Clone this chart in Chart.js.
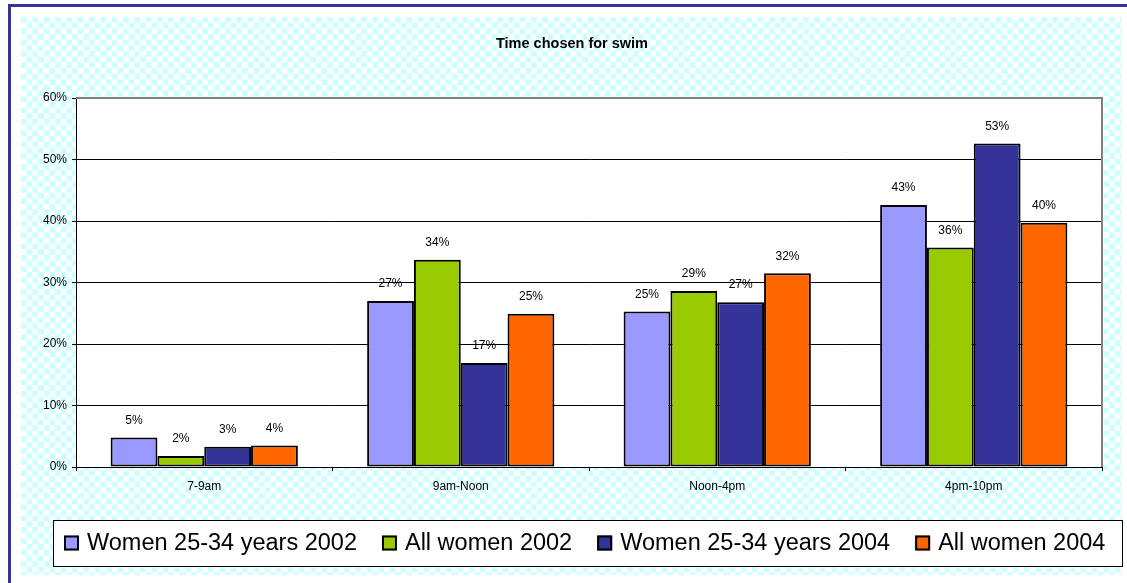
<!DOCTYPE html>
<html>
<head>
<meta charset="utf-8">
<title>Time chosen for swim</title>
<script src="https://cdn.jsdelivr.net/npm/chart.js@4/dist/chart.umd.min.js"></script>
<style>
  html, body { margin: 0; padding: 0; background: #fff; }
  #wrap { position: relative; width: 1127px; height: 583px; }
</style>
</head>
<body>
<div id="wrap"><canvas id="swim"></canvas></div>
<script>
// Time slots and the share (%) of swimmers choosing each one
const categories = ['7-9am', '9am-Noon', 'Noon-4pm', '4pm-10pm'];
const women2534in2002 = [4.8, 27.0, 25.3, 42.6];
const allWomen2002 = [1.8, 33.7, 28.6, 35.7];
const women2534in2004 = [3.3, 16.9, 26.8, 52.6];
const allWomen2004 = [3.5, 24.9, 31.5, 39.7];
const seriesNames = ['Women 25-34 years 2002', 'All women 2002', 'Women 25-34 years 2004', 'All women 2004'];
const yTickValues = [0, 10, 20, 30, 40, 50, 60];

const FONT = '"Liberation Sans", Arial, sans-serif';

// light cyan checkerboard used for the chart background
function checkerPattern(ctx) {
  const cells = 6, tile = 34, s = tile / cells;
  const c = document.createElement('canvas');
  c.width = tile; c.height = tile;
  const g = c.getContext('2d');
  g.fillStyle = '#ffffff';
  g.fillRect(0, 0, tile, tile);
  g.fillStyle = '#ccffff';
  for (let i = 0; i < cells; i++) {
    for (let j = 0; j < cells; j++) {
      if ((i + j) % 2 === 0) g.fillRect(i * s, j * s, s, s);
    }
  }
  const p = ctx.createPattern(c, 'repeat');
  p.setTransform(new DOMMatrix().translate(21, 17));
  return p;
}

// page frame, patterned background and white plot area
const backdrop = {
  id: 'backdrop',
  beforeDraw(chart) {
    const { ctx, chartArea: a, width, height } = chart;
    ctx.save();
    ctx.fillStyle = '#ffffff';
    ctx.fillRect(0, 0, width, height);
    ctx.fillStyle = checkerPattern(ctx);
    ctx.fillRect(21, 17, 1101, 558);
    ctx.fillStyle = '#333399';
    ctx.fillRect(8, 4, width - 8, 3);
    ctx.fillRect(8, 4, 3, height - 4);
    ctx.fillStyle = '#ffffff';
    ctx.fillRect(a.left, a.top, a.right - a.left, a.bottom - a.top);
    ctx.restore();
  },
  beforeDatasetsDraw(chart) {
    const { ctx, chartArea: a } = chart;
    ctx.save();
    ctx.strokeStyle = '#808080';
    ctx.lineWidth = 2;
    ctx.beginPath();
    ctx.moveTo(a.left, a.top);
    ctx.lineTo(a.right, a.top);
    ctx.lineTo(a.right, a.bottom);
    ctx.stroke();
    ctx.restore();
  }
};

// single-row boxed legend under the axis
const boxedLegend = {
  id: 'boxedLegend',
  afterDraw(chart, args, opts) {
    const ctx = chart.ctx;
    const { left, right, centerY, startX, swatch, textGap, itemGap, fontSize } = opts;
    ctx.save();
    ctx.fillStyle = '#ffffff';
    ctx.fillRect(left + 0.5, centerY - 23 + 0.5, right - left, 46);
    ctx.strokeStyle = '#000000';
    ctx.lineWidth = 1;
    ctx.strokeRect(left + 0.5, centerY - 23 + 0.5, right - left, 46);

    ctx.font = fontSize + 'px ' + FONT;
    ctx.textAlign = 'left';
    ctx.textBaseline = 'middle';
    let x = startX;
    chart.data.datasets.forEach(ds => {
      ctx.fillStyle = ds.backgroundColor;
      ctx.fillRect(x, centerY - swatch / 2, swatch, swatch);
      ctx.strokeStyle = '#000000';
      ctx.lineWidth = 2;
      ctx.strokeRect(x + 1, centerY - swatch / 2 + 1, swatch - 2, swatch - 2);
      ctx.fillStyle = '#000000';
      ctx.fillText(ds.label, x + textGap, centerY + 1);
      x += textGap + ctx.measureText(ds.label).width + itemGap;
    });
    ctx.restore();
  }
};

// percentage written above each bar
const valueLabels = {
  id: 'valueLabels',
  afterDatasetsDraw(chart) {
    const ctx = chart.ctx;
    ctx.save();
    ctx.font = '12px ' + FONT;
    ctx.fillStyle = '#000000';
    ctx.textAlign = 'center';
    ctx.textBaseline = 'middle';
    chart.data.datasets.forEach((ds, i) => {
      chart.getDatasetMeta(i).data.forEach((bar, j) => {
        ctx.fillText(Math.round(ds.data[j]) + '%', bar.x, bar.y - 17);
      });
    });
    ctx.restore();
  }
};

const seriesValues = [women2534in2002, allWomen2002, women2534in2004, allWomen2004];
const seriesColors = ['#9999ff', '#99cc00', '#333399', '#ff6600'];

new Chart(document.getElementById('swim'), {
  type: 'bar',
  data: {
    labels: categories,
    datasets: seriesValues.map((vals, i) => ({
      label: seriesNames[i],
      data: vals,
      backgroundColor: seriesColors[i],
      borderColor: '#000000',
      borderWidth: 2,
      borderSkipped: false,
      categoryPercentage: 0.73,
      barPercentage: 1.0
    }))
  },
  options: {
    responsive: true,
    maintainAspectRatio: false,
    animation: false,
    layout: { padding: { left: 42, right: 25, top: 0, bottom: 86 } },
    plugins: {
      title: {
        display: true,
        text: 'Time chosen for swim',
        color: '#000000',
        font: { family: FONT, size: 14.5, weight: 'bold' },
        padding: { top: 35, bottom: 45.6 }
      },
      legend: { display: false },
      tooltip: { enabled: false },
      boxedLegend: {
        left: 53, right: 1122, centerY: 543,
        startX: 64, swatch: 15, textGap: 23, itemGap: 25, fontSize: 23.5
      }
    },
    scales: {
      x: {
        grid: { drawOnChartArea: false, drawTicks: true, tickLength: 4, color: '#000000', offset: true },
        border: { color: '#000000', width: 1 },
        ticks: { color: '#000000', font: { family: FONT, size: 12 }, padding: 8 },
        afterFit(s) { s.height = 30; }
      },
      y: {
        min: 0,
        max: 60,
        grid: { color: '#000000', lineWidth: 1, tickLength: 4 },
        border: { color: '#000000', width: 1 },
        ticks: { color: '#000000', font: { family: FONT, size: 12 }, padding: 5, callback: v => v + '%' },
        afterBuildTicks(s) { s.ticks = yTickValues.map(v => ({ value: v })); },
        afterFit(s) { s.width = 34; }
      }
    }
  },
  plugins: [backdrop, boxedLegend, valueLabels]
});
</script>
</body>
</html>
